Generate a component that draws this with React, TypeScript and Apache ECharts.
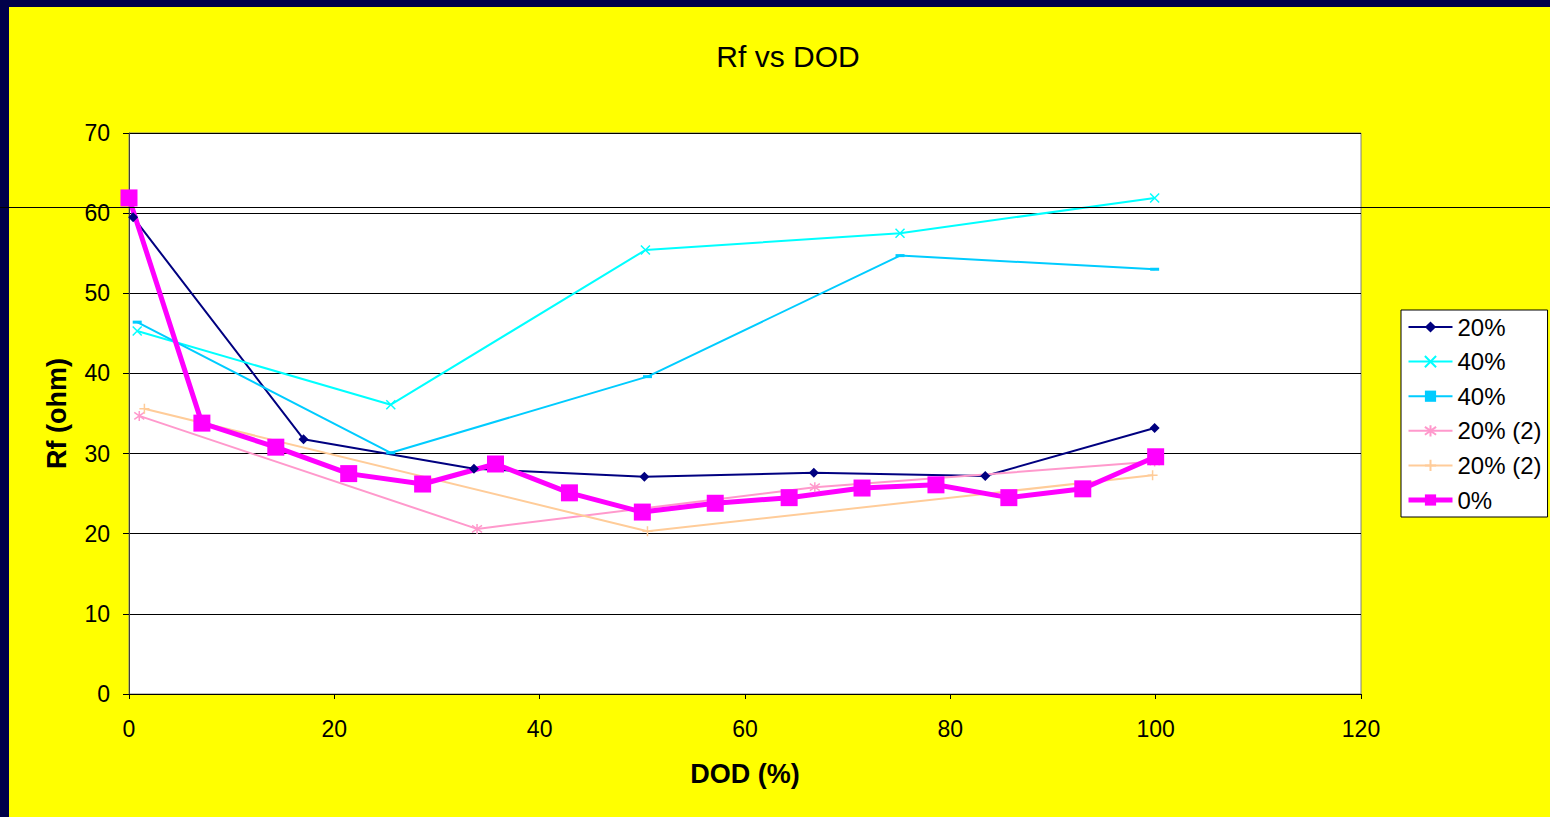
import React, { useEffect, useRef } from "react";
import * as echarts from "echarts";

const xTicks = [0, 20, 40, 60, 80, 100, 120];
const yTicks = [0, 10, 20, 30, 40, 50, 60, 70];

const s20X = [0.4, 17, 33.6, 50.2, 66.7, 83.4, 99.9];
const s20Y = [59.5, 31.8, 28.1, 27.1, 27.6, 27.2, 33.2];

const s40aX = [0.8, 25.5, 50.3, 75.1, 99.9];
const s40aY = [45.3, 36.1, 55.4, 57.5, 61.9];

const s40bX = [0.8, 25.5, 50.5, 75.1, 99.9];
const s40bY = [46.4, 30.1, 39.6, 54.7, 53.0];

const s20bX = [1.0, 33.9, 66.8, 99.9];
const s20bY = [34.7, 20.6, 25.8, 29.0];

const s20cX = [1.5, 50.5, 99.7];
const s20cY = [35.6, 20.3, 27.3];

const s0X = [0, 7.1, 14.3, 21.4, 28.6, 35.7, 42.9, 50, 57.1, 64.3, 71.4, 78.6, 85.7, 92.9, 100];
const s0Y = [61.9, 33.8, 30.8, 27.5, 26.2, 28.7, 25.1, 22.7, 23.8, 24.5, 25.7, 26.1, 24.5, 25.6, 29.6];

const zip = (xs: number[], ys: number[]) => xs.map((x, i) => [x, ys[i]]);

const FONT = "Liberation Sans, Arial, sans-serif";

export default function App() {
  const ref = useRef<HTMLDivElement>(null);
  useEffect(() => {
    if (!ref.current) return;
    const chart = echarts.init(ref.current, undefined, { renderer: "svg" });
    const X_PATH = "path://M0,0L10,10M10,0L0,10";
    const STAR_PATH = "path://M5,0L5,10M0,1.5L10,8.5M10,1.5L0,8.5";
    const PLUS_PATH = "path://M5,0L5,10M0,5L10,5";
    chart.setOption({
      animation: false,
      backgroundColor: "#FFFF00",
      textStyle: { fontFamily: FONT },
      title: {
        text: "Rf vs DOD",
        left: 783,
        textAlign: "center",
        top: 36,
        textStyle: { fontFamily: FONT, fontSize: 30, fontWeight: "normal", color: "#000" },
      },
      grid: {
        left: 129,
        top: 133,
        width: 1232,
        height: 561,
        show: true,
        backgroundColor: "#FFFFFF",
        borderColor: "#808080",
        borderWidth: 1,
      },
      legend: {
        orient: "vertical",
        left: 1401,
        top: 310,
        padding: [5, 6, 5, 5],
        backgroundColor: "#FFFFFF",
        borderColor: "#000000",
        borderWidth: 1,
        itemWidth: 44,
        itemHeight: 14,
        itemGap: 10.6,
        formatter: (name: string) => name.trim(),
        textStyle: { fontFamily: FONT, fontSize: 24, color: "#000", lineHeight: 24 },
        data: [
          "20%",
          "40%",
          "40% ",
          "20% (2)",
          "20% (2) ",
          { name: "0%", lineStyle: { width: 5 } },
        ],
      },
      xAxis: {
        type: "value",
        min: 0,
        max: 120,
        interval: 20,
        name: "DOD (%)",
        nameLocation: "middle",
        nameGap: 66,
        nameTextStyle: { fontFamily: FONT, fontSize: 27, fontWeight: "bold", color: "#000" },
        axisLine: { show: true, onZero: false, lineStyle: { color: "#000", width: 1 } },
        axisTick: { show: true, length: 5, lineStyle: { color: "#000" } },
        axisLabel: { fontFamily: FONT, fontSize: 23, color: "#000", margin: 23 },
        splitLine: { show: false },
      },
      yAxis: {
        type: "value",
        min: 0,
        max: 70,
        interval: 10,
        name: "Rf (ohm)",
        nameLocation: "middle",
        nameGap: 59,
        nameRotate: 90,
        nameTextStyle: { fontFamily: FONT, fontSize: 27, fontWeight: "bold", color: "#000" },
        axisLine: { show: true, lineStyle: { color: "#404040", width: 1 } },
        axisTick: { show: true, length: 6, lineStyle: { color: "#000" } },
        axisLabel: { fontFamily: FONT, fontSize: 23, color: "#000", margin: 19 },
        splitLine: {
          show: true,
          lineStyle: { color: "#000", width: 1 },
        },
      },
      series: [
        {
          name: "20%",
          type: "line",
          data: zip(s20X, s20Y),
          symbol: "diamond",
          symbolSize: 10,
          lineStyle: { color: "#000080", width: 2 },
          itemStyle: { color: "#000080" },
        },
        {
          name: "40%",
          type: "line",
          data: zip(s40aX, s40aY),
          symbol: X_PATH,
          symbolSize: 9,
          lineStyle: { color: "#00FFFF", width: 2 },
          itemStyle: { color: "#00FFFF", borderColor: "#00FFFF", borderWidth: 1.5 },
        },
        {
          name: "40% ",
          type: "line",
          data: zip(s40bX, s40bY),
          symbol: "rect",
          symbolSize: [9, 3],
          lineStyle: { color: "#00CCFF", width: 2 },
          itemStyle: { color: "#00CCFF" },
        },
        {
          name: "20% (2)",
          type: "line",
          data: zip(s20bX, s20bY),
          symbol: STAR_PATH,
          symbolSize: 10,
          lineStyle: { color: "#FF99CC", width: 2 },
          itemStyle: { color: "#FF99CC", borderColor: "#FF99CC", borderWidth: 1.5 },
        },
        {
          name: "20% (2) ",
          type: "line",
          data: zip(s20cX, s20cY),
          symbol: PLUS_PATH,
          symbolSize: 10,
          lineStyle: { color: "#FFCC99", width: 2 },
          itemStyle: { color: "#FFCC99", borderColor: "#FFCC99", borderWidth: 1.5 },
        },
        {
          name: "0%",
          type: "line",
          data: zip(s0X, s0Y),
          symbol: "rect",
          symbolSize: 17,
          lineStyle: { color: "#FF00FF", width: 5 },
          itemStyle: { color: "#FF00FF" },
        },
      ],
      graphic: [
        { type: "rect", left: 0, top: 0, shape: { width: 1550, height: 7 }, style: { fill: "#00004A" }, z: 100 },
        { type: "rect", left: 0, top: 0, shape: { width: 9, height: 817 }, style: { fill: "#00004A" }, z: 100 },
        { type: "line", shape: { x1: 0, y1: 207.5, x2: 1550, y2: 207.5 }, style: { stroke: "#000", lineWidth: 1 }, z: 100 },
      ],
    });
    return () => chart.dispose();
  }, []);
  return (
    <div
      ref={ref}
      style={{ position: "fixed", left: 0, top: 0, width: 1550, height: 817 }}
    />
  );
}
